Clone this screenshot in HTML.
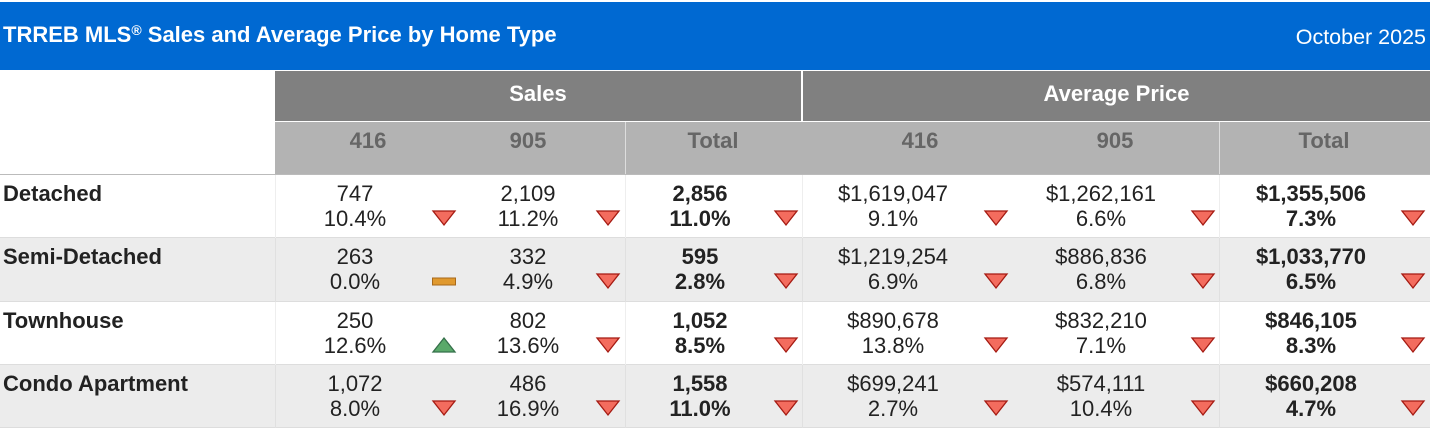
<!DOCTYPE html>
<html><head><meta charset="utf-8"><style>
body{margin:0;width:1430px;height:431px;position:relative;background:#fff;font-family:"Liberation Sans",Arial,sans-serif;overflow:hidden}
.a{position:absolute}
.t{position:absolute;text-align:center;font-size:22px;color:#222;line-height:25px;white-space:nowrap}
</style></head><body>
<div class="a" style="left:0;top:2px;width:1430px;height:68px;background:#0069d2"></div>
<div class="a" style="left:3px;top:22px;color:#fff;font-weight:bold;font-size:22px">TRREB MLS<sup style="font-size:14px;vertical-align:7px;line-height:0">®</sup> Sales and Average Price by Home Type</div>
<div class="a" style="right:4px;top:25px;color:#fff;font-size:21.5px">October 2025</div>
<div class="a" style="left:275px;top:71px;width:526px;height:50px;background:#808080;color:#fff;font-weight:bold;font-size:22px;text-align:center;line-height:46px">Sales</div>
<div class="a" style="left:803px;top:71px;width:627px;height:50px;background:#808080;color:#fff;font-weight:bold;font-size:22px;text-align:center;line-height:46px">Average Price</div>
<div class="a" style="left:275px;top:122px;width:1155px;height:52px;background:#b3b3b3"></div>
<div class="a" style="left:625px;top:122px;width:1px;height:52px;background:#ddd"></div>
<div class="a" style="left:1219px;top:122px;width:1px;height:52px;background:#ddd"></div>
<div class="a" style="left:0;top:174px;width:1430px;height:1px;background:#bbb"></div>
<div id="root"></div>
<script>
const homeTypes=["Detached","Semi-Detached","Townhouse","Condo Apartment"];
const sales416=["747","263","250","1,072"];
const sales416Chg=["10.4%","0.0%","12.6%","8.0%"];
const sales416Dir=["down","flat","up","down"];
const sales905=["2,109","332","802","486"];
const sales905Chg=["11.2%","4.9%","13.6%","16.9%"];
const sales905Dir=["down","down","down","down"];
const salesTot=["2,856","595","1,052","1,558"];
const salesTotChg=["11.0%","2.8%","8.5%","11.0%"];
const salesTotDir=["down","down","down","down"];
const price416=["$1,619,047","$1,219,254","$890,678","$699,241"];
const price416Chg=["9.1%","6.9%","13.8%","2.7%"];
const price416Dir=["down","down","down","down"];
const price905=["$1,262,161","$886,836","$832,210","$574,111"];
const price905Chg=["6.6%","6.8%","7.1%","10.4%"];
const price905Dir=["down","down","down","down"];
const priceTot=["$1,355,506","$1,033,770","$846,105","$660,208"];
const priceTotChg=["7.3%","6.5%","8.3%","4.7%"];
const priceTotDir=["down","down","down","down"];
const subHeads=["416","905","Total","416","905","Total"];

const root=document.getElementById('root');
const cols=[
 {h:368,c:355,ar:444,v:sales416,p:sales416Chg,d:sales416Dir,b:false},
 {h:528,c:528,ar:608,v:sales905,p:sales905Chg,d:sales905Dir,b:false},
 {h:713,c:700,ar:786,v:salesTot,p:salesTotChg,d:salesTotDir,b:true},
 {h:920,c:893,ar:996,v:price416,p:price416Chg,d:price416Dir,b:false},
 {h:1115,c:1101,ar:1203,v:price905,p:price905Chg,d:price905Dir,b:false},
 {h:1324,c:1311,ar:1413,v:priceTot,p:priceTotChg,d:priceTotDir,b:true}];
cols.forEach((col,i)=>{
 const h=document.createElement('div');h.className='t';
 
 
 h.style.cssText=`left:${col.h-60}px;width:120px;top:128px;font-weight:bold;color:#666;`;
 h.textContent=subHeads[i];root.appendChild(h);
});
const top0=175,rh=63.3;
homeTypes.forEach((ht,r)=>{
 const y=top0+r*rh;
 const bg=document.createElement('div');bg.className='a';
 
 
 bg.style.cssText=`left:0;top:${y}px;width:1430px;height:${rh-1}px;background:${r%2?'#ececec':'#fff'};border-bottom:1px solid #ddd`;
 root.appendChild(bg);
 [275,625,802,1219].forEach(x=>{const d=document.createElement('div');d.className='a';
  
  
  d.style.cssText=`left:${x}px;top:${y}px;width:1px;height:${rh}px;background:${r%2?'#e0e0e0':'#eee'}`;root.appendChild(d);});
 const l=document.createElement('div');l.className='t';
 
 
 l.style.cssText=`left:3px;top:${y+6}px;text-align:left;font-weight:bold;`;l.textContent=ht;root.appendChild(l);
 cols.forEach(col=>{
  const t=document.createElement('div');t.className='t';
  
  
  t.style.cssText=`left:${col.c-80}px;width:160px;top:${y+6}px;${col.b?'font-weight:bold;':''}`;
  t.innerHTML=col.v[r]+'<br>'+col.p[r];root.appendChild(t);
  const dir=col.d[r];
  const s=document.createElementNS('http://www.w3.org/2000/svg','svg');
  
  
  s.setAttribute('width','26');s.setAttribute('height','18');
  s.style.cssText=`position:absolute;left:${col.ar-13}px;top:${y+34}px`;
  if(dir==='down')s.innerHTML='<polygon points="2,2 24,2 13,16" fill="#f36c5e" stroke="#a51a12" stroke-width="1.3"/>';
  else if(dir==='up')s.innerHTML='<polygon points="2,16 24,16 13,2" fill="#5aa96a" stroke="#35704a" stroke-width="1.3"/>';
  else s.innerHTML='<rect x="1.5" y="6" width="23" height="7" fill="#e0992e" stroke="#a8691a" stroke-width="1"/>';
  root.appendChild(s);
 });
});
</script>
</body></html>
